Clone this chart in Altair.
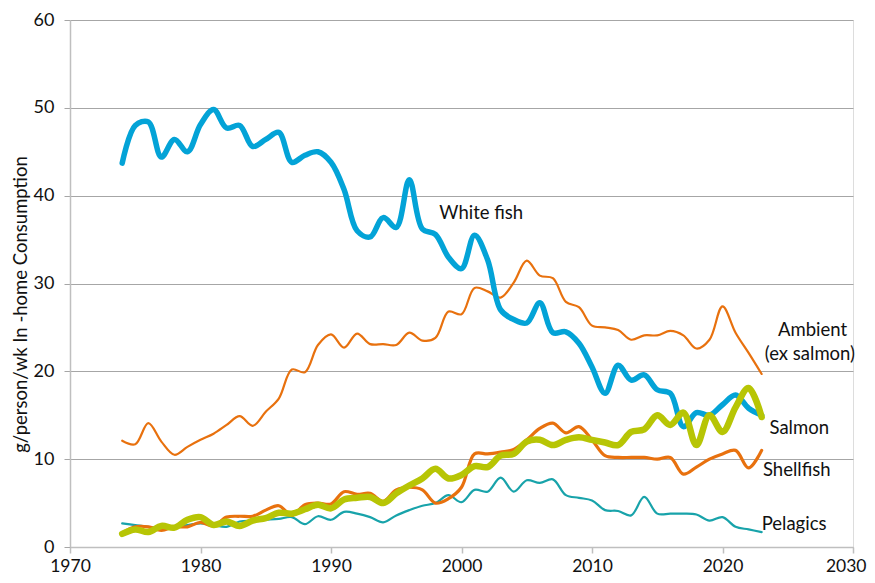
import altair as alt
import pandas as pd

years = list(range(1974, 2024))

white_fish = [43.7, 48.0, 48.4, 44.4, 46.4, 45.0, 48.1, 49.8, 47.7, 48.0,
              45.6, 46.4, 47.2, 43.8, 44.6, 45.0, 43.8, 40.7, 36.0, 35.3,
              37.5, 36.4, 41.8, 36.2, 35.6, 33.0, 31.7, 35.5, 32.7, 27.0,
              25.9, 25.5, 27.8, 24.4, 24.5, 23.2, 20.5, 17.5, 20.7, 19.0,
              19.6, 17.9, 17.5, 13.7, 15.3, 15.0, 16.2, 17.3, 15.8, 15.0]

ambient = [12.1, 11.7, 14.1, 12.0, 10.5, 11.4, 12.2, 12.9, 13.9, 14.9,
           13.8, 15.4, 16.9, 20.2, 19.9, 23.0, 24.2, 22.7, 24.3, 23.1,
           23.1, 23.0, 24.4, 23.5, 23.8, 26.8, 26.5, 29.5, 29.1, 28.4,
           30.1, 32.6, 30.9, 30.6, 27.9, 27.3, 25.2, 25.0, 24.7, 23.6,
           24.1, 24.1, 24.6, 24.1, 22.6, 23.6, 27.4, 24.4, 22.1, 19.7]

salmon = [1.5, 2.0, 1.7, 2.4, 2.2, 3.1, 3.4, 2.5, 2.9, 2.4,
          3.0, 3.3, 3.9, 3.8, 4.3, 4.8, 4.4, 5.4, 5.6, 5.7,
          5.0, 6.1, 7.0, 7.8, 8.9, 7.8, 8.2, 9.2, 9.1, 10.4,
          10.6, 12.0, 12.2, 11.6, 12.2, 12.5, 12.2, 11.9, 11.6, 13.1,
          13.4, 15.0, 13.9, 15.3, 11.6, 15.0, 13.1, 15.9, 18.1, 14.8]

shellfish = [1.6, 2.3, 2.3, 1.9, 2.3, 2.3, 2.8, 2.4, 3.4, 3.5,
             3.5, 4.2, 4.7, 3.6, 4.8, 5.0, 4.9, 6.3, 6.0, 6.1,
             5.2, 6.5, 6.8, 6.5, 5.0, 5.5, 6.8, 10.6, 10.6, 10.8,
             11.1, 12.2, 13.5, 14.1, 13.0, 13.7, 12.2, 10.4, 10.2, 10.2,
             10.2, 10.0, 10.2, 8.3, 9.1, 10.0, 10.6, 11.0, 9.0, 11.0]

pelagics = [2.7, 2.5, 2.3, 2.2, 2.3, 2.5, 2.7, 2.5, 2.3, 2.9,
            3.0, 3.1, 3.2, 3.4, 2.6, 3.5, 3.1, 4.0, 3.8, 3.4,
            2.8, 3.6, 4.2, 4.7, 5.0, 5.9, 5.1, 6.5, 6.3, 7.9,
            6.3, 7.6, 7.3, 7.7, 5.9, 5.6, 5.3, 4.2, 4.1, 3.6,
            5.7, 3.8, 3.8, 3.8, 3.7, 3.0, 3.4, 2.3, 2.0, 1.7]

series_names = ["Ambient", "Pelagics", "Shellfish", "White fish", "Salmon"]
series_values = [ambient, pelagics, shellfish, white_fish, salmon]
series_colors = ["#E8710E", "#18A3AA", "#E8710E", "#03A3D7", "#B7C505"]
series_widths = [2.2, 2.2, 3.2, 5.5, 6.5]

label_text = ["White fish", "Ambient", "(ex salmon)", "Salmon", "Shellfish", "Pelagics"]
label_year = [1998.3, 2026.9, 2026.7, 2023.6, 2023.1, 2023.0]
label_value = [38.0, 24.7, 22.0, 13.6, 8.8, 2.6]
label_align = ["left", "center", "center", "left", "left", "left"]

rows = []
for name, vals in zip(series_names, series_values):
    for y, v in zip(years, vals):
        rows.append({"year": y, "value": v, "series": name})
df = pd.DataFrame(rows)

labels_df = pd.DataFrame({"text": label_text, "year": label_year,
                          "value": label_value, "anchor": label_align})

FONT = "Lato"

x_scale = alt.Scale(domain=[1970, 2030], nice=False)
y_scale = alt.Scale(domain=[0, 60], nice=False)

last_tick = "datum.value >= 2030"

layers = []
for name, color, w in zip(series_names, series_colors, series_widths):
    layers.append(
        alt.Chart(df[df["series"] == name]).mark_line(
            color=color, strokeWidth=w, interpolate="catmull-rom",
            strokeCap="round", strokeJoin="round"
        ).encode(
            x=alt.X("year:Q", scale=x_scale,
                    axis=alt.Axis(values=[1970, 1980, 1990, 2000, 2010, 2020, 2030],
                                  format="d", grid=False, title=None, labelFlush=False,
                                  labelAlign={"condition": {"test": last_tick, "value": "right"},
                                              "value": "center"},
                                  labelOffset={"condition": {"test": last_tick, "value": 13},
                                               "value": 0},
                                  domainColor="#BFBFBF", tickColor="#BFBFBF",
                                  tickSize=6, labelPadding=4, labelFontSize=17.5,
                                  labelColor="#111111", labelFont=FONT, domainWidth=1.5,
                                  tickWidth=1.5)),
            y=alt.Y("value:Q", scale=y_scale,
                    axis=alt.Axis(values=[0, 10, 20, 30, 40, 50, 60],
                                  grid=True, gridColor="#A6A6A6", gridWidth=1,
                                  labelFlush=False,
                                  title="g/person/wk In -home Consumption",
                                  titleFontSize=18.5, titleFontWeight="normal",
                                  titleFont=FONT, titleColor="#111111", titlePadding=3,
                                  titleY=284,
                                  domainColor="#BFBFBF", tickColor="#A6A6A6",
                                  tickSize=6, labelPadding=10, labelFontSize=18,
                                  labelColor="#111111", labelFont=FONT, domainWidth=1.5))
        )
    )

for al in ["left", "center"]:
    sub = labels_df[labels_df["anchor"] == al]
    layers.append(
        alt.Chart(sub).mark_text(align=al, baseline="middle", fontSize=18.5,
                                 font=FONT, color="#111111").encode(
            x=alt.X("year:Q", scale=x_scale),
            y=alt.Y("value:Q", scale=y_scale),
            text="text:N"
        )
    )

chart = alt.layer(*layers).properties(
    width=783, height=527,
    autosize=alt.AutoSizeParams(type="none"),
    padding={"left": 62, "top": 12, "right": 14, "bottom": 28}
).configure_view(stroke=None).configure(background="white")

chart.save("out.html", embed_options={"renderer": "svg", "actions": False})
